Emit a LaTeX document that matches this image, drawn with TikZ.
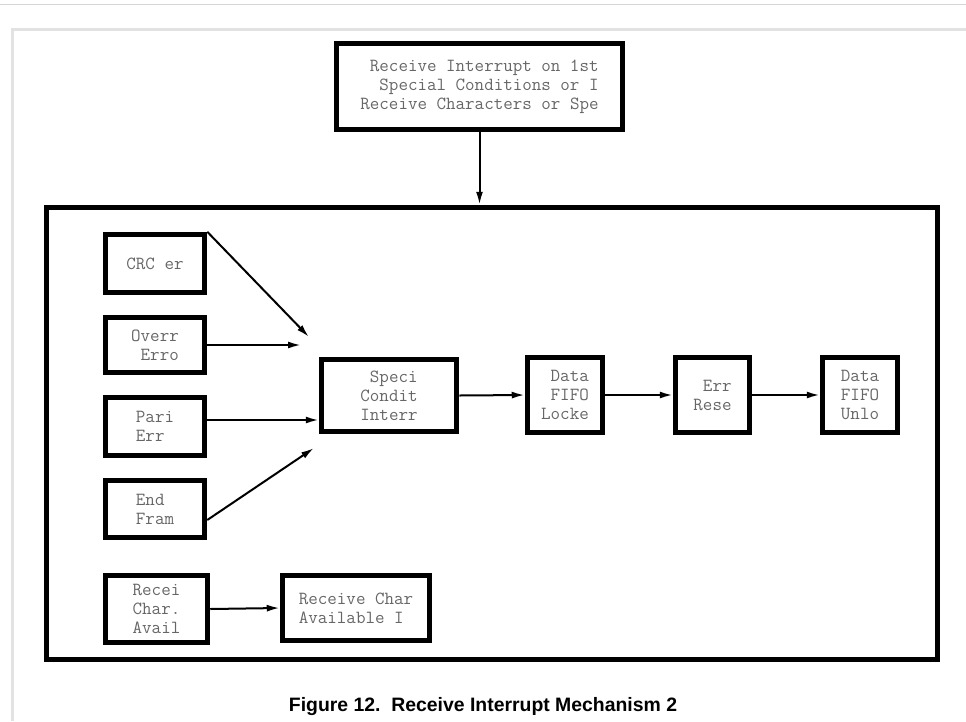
\documentclass[tikz,border=0pt]{standalone}
\usepackage{fontspec}
\usepackage{tikz}
\usetikzlibrary{arrows.meta}
\newfontfamily\capfont{Liberation Sans}
\definecolor{boxtext}{rgb}{0.40,0.40,0.40}
\definecolor{frame}{rgb}{0.84,0.84,0.84}

\tikzset{
  blk/.style={draw, line width=5.5pt, align=right, text=boxtext, inner sep=0pt,
    font=\ttfamily\fontsize{18.5}{19}\selectfont},
  small/.style={blk, minimum width=99pt},
  arr/.style={-{Latex[length=13pt,width=7pt]}, line width=2pt},
}

\begin{document}
\begin{tikzpicture}[x=1pt,y=-1pt]
\useasboundingbox (0,0) rectangle (966,721);

% page frame
\draw[frame, line width=1.5pt] (0,4.5) -- (966,4.5);
\draw[frame!70, line width=3pt] (12,721) -- (12,29) -- (966,29);

% top box
\node[blk, minimum width=286pt, minimum height=86pt] (rxtop) at (479.5,86.5)
  {Receive Interrupt on 1st\\Special Conditions or I\\Receive Characters or Spe};

% big box
\node[draw, line width=5.5pt, minimum width=891pt, minimum height=452pt] (mech) at (492,433.5) {};
\draw[arr] (rxtop.south) -- (rxtop.south |- mech.north);

% error sources
\node[small, minimum height=58pt] (crc) at (155,263.5) {CRC er};
\node[small, minimum height=55pt] (overrun) at (155,345) {Overr\\Erro};
\node[small, minimum height=58pt, align=left] (parity) at (155,426.5) {Pari\\Err};
\node[small, minimum height=57pt, align=left] (eof) at (155,509) {End\\Fram};

% chain
\node[blk, minimum width=135pt, minimum height=72pt] (special) at (389,395.5) {Speci\\Condit\\Interr};
\node[blk, minimum width=75pt, minimum height=75pt] (lock) at (565,395) {Data\\FIFO\\Locke};
\node[blk, minimum width=74pt, minimum height=75pt] (reset) at (712.5,395) {Err\\Rese};
\node[blk, minimum width=75pt, minimum height=75pt] (unlock) at (860,395) {Data\\FIFO\\Unlo};

% receive char
\node[blk, minimum width=102pt, minimum height=67pt, align=center] (rxavail) at (156.5,609) {Recei\\Char.\\Avail};
\node[blk, minimum width=147pt, minimum height=65pt, align=left] (rxint) at (356,608) {Receive Char\\Available I};

% arrows
\coordinate (crcend) at (309,337);
\coordinate (ovrend) at (301,345);
\coordinate (eofend) at (314,448);
\draw[arr] (crc.north east) -- (crcend);
\draw[arr] (overrun.east) -- (ovrend);
\draw[arr] ([yshift=6.5pt]parity.east) -- ([yshift=6.5pt]parity.east -| special.west);
\draw[arr] ([yshift=-11pt]eof.east) -- (eofend);
\draw[arr] (special.east) -- (lock.west);
\draw[arr] (lock.east) -- (reset.west);
\draw[arr] (reset.east) -- (unlock.west);
\draw[arr] (rxavail.east) -- (rxint.west);

% caption
\node[font=\capfont\bfseries\fontsize{19.4}{22}\selectfont] (cap) at (483,707)
  {Figure 12.\ \ Receive Interrupt Mechanism 2};

\end{tikzpicture}
\end{document}
